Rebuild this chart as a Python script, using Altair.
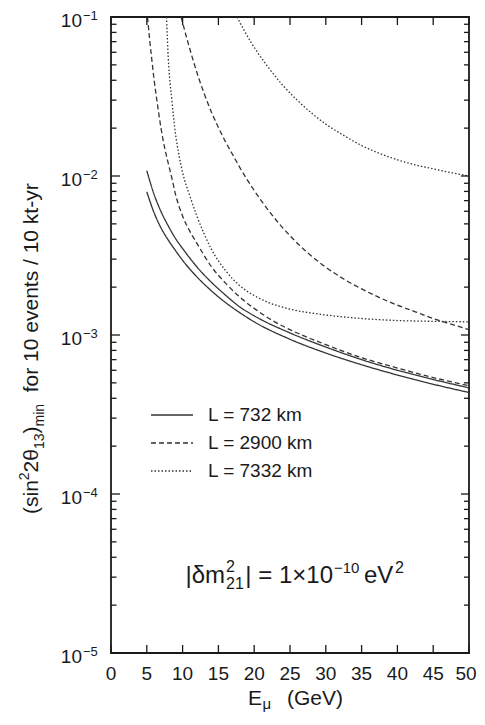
import altair as alt
import pandas as pd

FONT = "Liberation Sans"
INK = "#1a1a1a"
LINE = "#333333"
W, H = 358, 636

# ---------------- data ----------------
L_labels = ["L = 732 km", "L = 2900 km", "L = 7332 km"]

E_732 = [5, 6, 7, 8, 9, 10, 12, 14, 16, 18, 20, 25, 30, 35, 40, 45, 50]
s732_upper = [1.08e-2, 7.7e-3, 5.95e-3, 4.85e-3, 4.05e-3, 3.5e-3, 2.68e-3, 2.15e-3,
              1.78e-3, 1.5e-3, 1.32e-3, 1.03e-3, 0.84e-3, 0.70e-3, 0.60e-3, 0.525e-3, 0.465e-3]
s732_lower = [7.95e-3, 5.9e-3, 4.7e-3, 3.95e-3, 3.4e-3, 2.95e-3, 2.32e-3, 1.9e-3,
              1.6e-3, 1.38e-3, 1.21e-3, 0.94e-3, 0.77e-3, 0.65e-3, 0.56e-3, 0.49e-3, 0.435e-3]

E_2900_a = [5.1, 5.4, 5.7, 6, 6.5, 7, 7.5, 8, 8.5, 9, 10, 11, 12, 14, 16, 18, 20, 23, 25,
            30, 35, 40, 45, 50]
s2900_lower = [0.1, 7.2e-2, 5.4e-2, 4.1e-2, 2.8e-2, 1.98e-2, 1.5e-2, 1.2e-2, 9.7e-3, 7.7e-3,
               5.6e-3, 4.5e-3, 3.77e-3, 2.7e-3, 2.12e-3, 1.73e-3, 1.47e-3, 1.2e-3, 1.08e-3,
               0.87e-3, 0.72e-3, 0.62e-3, 0.54e-3, 0.48e-3]

E_2900_b = [9.8, 10.5, 11, 12, 13, 14, 15, 16, 17, 18, 20, 22.5, 25, 27.5, 30, 32.5, 35,
            37.5, 40, 42.5, 45, 47.5, 50]
s2900_upper = [0.1, 7.59e-2, 6.31e-2, 4.47e-2, 3.31e-2, 2.54e-2, 2.02e-2, 1.64e-2, 1.36e-2,
               1.13e-2, 8.11e-3, 5.68e-3, 4.21e-3, 3.28e-3, 2.67e-3, 2.25e-3, 1.95e-3, 1.72e-3,
               1.54e-3, 1.40e-3, 1.27e-3, 1.17e-3, 1.08e-3]

E_7332_a = [7.75, 8, 8.5, 9, 9.5, 10, 11, 12, 13, 14, 16, 18, 20, 22, 25, 30, 35, 40, 45, 50]
s7332_lower = [0.1, 5.5e-2, 3.0e-2, 1.85e-2, 1.35e-2, 1.05e-2, 7.52e-3, 5.6e-3, 4.33e-3,
               3.48e-3, 2.54e-3, 2.04e-3, 1.77e-3, 1.6e-3, 1.455e-3, 1.337e-3, 1.27e-3,
               1.233e-3, 1.219e-3, 1.21e-3]

E_7332_b = [17.6, 18.5, 19.5, 20.5, 22, 24, 26, 28, 30, 32.5, 35, 37.5, 40, 42.5, 45, 47.5, 50]
s7332_upper = [0.1, 8.38e-2, 7.01e-2, 5.96e-2, 4.8e-2, 3.72e-2, 3.0e-2, 2.49e-2, 2.12e-2,
               1.8e-2, 1.556e-2, 1.387e-2, 1.265e-2, 1.174e-2, 1.11e-2, 1.05e-2, 1.0e-2]

x_ticks = [0, 5, 10, 15, 20, 25, 30, 35, 40, 45, 50]
y_decades = [1e-5, 1e-4, 1e-3, 1e-2, 1e-1]
y_exponents = ["\u22125", "\u22124", "\u22123", "\u22122", "\u22121"]
y_minor = [m * 10.0 ** d for d in range(-5, -1) for m in range(2, 10)]

# ---------------- tables ----------------
rows = []
for cid, lab, Es, vals in [
    ("732a", L_labels[0], E_732, s732_upper),
    ("732b", L_labels[0], E_732, s732_lower),
    ("2900a", L_labels[1], E_2900_a, s2900_lower),
    ("2900b", L_labels[1], E_2900_b, s2900_upper),
    ("7332a", L_labels[2], E_7332_a, s7332_lower),
    ("7332b", L_labels[2], E_7332_b, s7332_upper),
]:
    for e, v in zip(Es, vals):
        rows.append({"E": e, "v": v, "curve": cid, "L": lab})
df = pd.DataFrame(rows)

DASHES = [[1, 0], [5, 3], [1.5, 2]]

xs = alt.Scale(domain=[0, 50], nice=False, zero=False)
ys = alt.Scale(type="log", domain=[1e-5, 1e-1], nice=False)

curves = alt.Chart(df).mark_line(strokeWidth=1.3, color=LINE, clip=True,
                                 interpolate="monotone").encode(
    x=alt.X("E:Q", scale=xs, axis=None),
    y=alt.Y("v:Q", scale=ys, axis=None),
    detail="curve:N",
    strokeDash=alt.StrokeDash("L:N", scale=alt.Scale(domain=L_labels, range=DASHES), legend=None),
)

xt = pd.DataFrame({"x": x_ticks, "lab": [str(v) for v in x_ticks]})
yt = pd.DataFrame({"y": y_decades, "base": ["10"] * len(y_decades), "exp": y_exponents})
ym = pd.DataFrame({"y": y_minor})

def xrule(y0, y1):
    return alt.Chart(xt).mark_rule(color=INK, strokeWidth=1.3).encode(
        x=alt.X("x:Q", scale=xs, axis=None), y=alt.value(y0), y2=alt.value(y1))

def yrule(data, x0, x1):
    return alt.Chart(data).mark_rule(color=INK, strokeWidth=1.3).encode(
        y=alt.Y("y:Q", scale=ys, axis=None), x=alt.value(x0), x2=alt.value(x1))

ticks = [
    xrule(H, H - 8), xrule(0, 8),
    yrule(yt, 0, 9), yrule(yt, W, W - 8),
    yrule(ym, 0, 5.5), yrule(ym, W, W - 5),
]

def xlabels(data, dx):
    return alt.Chart(data).mark_text(align="center", baseline="alphabetic", fontSize=19,
                                     font=FONT, color=INK, dx=dx).encode(
        x=alt.X("x:Q", scale=xs, axis=None), y=alt.value(H + 27), text="lab:N")

xlab_inner = xlabels(xt[xt["x"] < 50], 0)
xlab_last = xlabels(xt[xt["x"] == 50], -3)

ylab_base = alt.Chart(yt).mark_text(align="right", baseline="middle", fontSize=19, font=FONT,
                                    color=INK, dy=4).encode(
    y=alt.Y("y:Q", scale=ys, axis=None), x=alt.value(-29), text="base:N")
ylab_exp = alt.Chart(yt).mark_text(align="left", baseline="middle", fontSize=13, font=FONT,
                                   color=INK, dy=-1).encode(
    y=alt.Y("y:Q", scale=ys, axis=None), x=alt.value(-28), text="exp:N")


def txt(s, x, y, size, align="left", angle=0, baseline="alphabetic"):
    return alt.Chart(pd.DataFrame({"t": [s]})).mark_text(
        align=align, baseline=baseline, fontSize=size, font=FONT, color=INK, angle=angle
    ).encode(x=alt.value(x), y=alt.value(y), text="t:N")

# Arial / Liberation Sans advance widths (em)
ADV = {"(": .333, ")": .333, "s": .5, "i": .222, "n": .556, "2": .556, "\u03b8": .556,
       "m": .833, " ": .278, "f": .278, "o": .556, "r": .333, "1": .556, "0": .556,
       "3": .556, "e": .556, "v": .5, "t": .278, "/": .278, "k": .5, "-": .333, "y": .5}

def width(s, size):
    return sum(ADV.get(c, .556) for c in s) * size

# legend
legend_layers = []
for i, (lab, dash) in enumerate(zip(L_labels, DASHES)):
    yy = 398 + 28 * i
    legend_layers.append(
        alt.Chart(pd.DataFrame({"t": [lab]})).mark_rule(
            color=LINE, strokeWidth=1.3, strokeDash=dash).encode(
            x=alt.value(40), x2=alt.value(82), y=alt.value(yy)))
    legend_layers.append(txt(lab, 97, yy, 19, baseline="middle"))

# annotation |δm^2_21| = 1×10^-10 eV^2 (pieces anchored where the reference has them)
F, S = 24, 16
ann = [
    txt("|\u03b4m", 114, 566, F, align="right"),
    txt("2", 115, 555, S),
    txt("21", 115, 572, S),
    txt("| = 1\u00d710", 222, 566, F, align="right"),
    txt("\u221210", 223, 556, 15),
    txt("eV", 253, 566, F),
    txt("2", 284, 556, S),
]

# y title (rotated), built upward from the bottom
TF, TS = 21, 14
base_x, sub_x, sup_x = -73, -67, -82
pieces = [("(sin", TF, base_x, 0), ("2", TS, sup_x, 0), ("2\u03b8", TF, base_x, 0),
          ("13", TS, sub_x, 0), (")", TF, base_x, 0), ("min", TS, sub_x, 2 * 0.278 * TF),
          ("for 10 events / 10 kt-yr", TF, base_x, 0)]
ytitle = []
ypos = 497
for s, size, xx, gap in pieces:
    ytitle.append(txt(s, xx, ypos, size, angle=270))
    ypos -= width(s, size) + gap

# x title E_mu (GeV)
xtitle = [txt("E", 151, 688, 21, align="right"),
          txt("\u03bc", 151.5, 692, 15),
          txt("(GeV)", 176, 688, 21)]

chart = alt.layer(
    curves, *ticks, xlab_inner, xlab_last, ylab_base, ylab_exp, *legend_layers, *ann,
    *ytitle, *xtitle
).properties(
    width=W, height=H,
    padding={"left": 103, "top": 9, "right": 8, "bottom": 62},
    autosize=alt.AutoSizeParams(type="none"),
    background="white",
).configure_view(stroke=INK, strokeWidth=1.8)

chart.save("out.html", embed_options={"renderer": "svg", "actions": False})
